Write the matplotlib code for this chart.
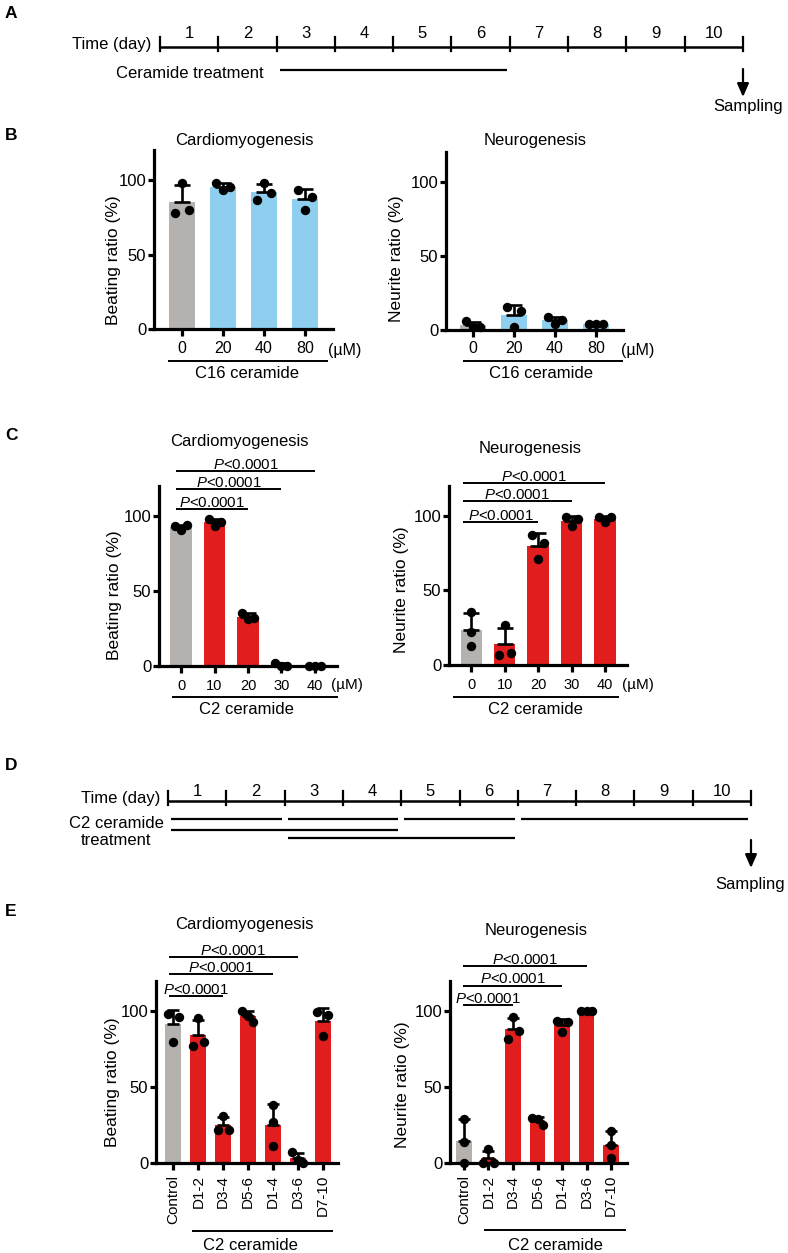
import numpy as np
import matplotlib
matplotlib.use('Agg')
import matplotlib.pyplot as plt

plt.rcParams['font.family'] = ['Liberation Sans', 'DejaVu Sans']
plt.rcParams['mathtext.fontset'] = 'custom'
plt.rcParams['mathtext.it'] = 'Liberation Sans:italic'
plt.rcParams['mathtext.rm'] = 'Liberation Sans'

W, H = 788, 1253

# ---------------- data ----------------
days = [1, 2, 3, 4, 5, 6, 7, 8, 9, 10]
a_treatment = [(3, 6)]
d_treatments = [(1, 2), (3, 4), (5, 6), (7, 10), (1, 4), (3, 6)]
d_rows = [0, 0, 0, 0, 1, 2]

c16_doses = ['0', '20', '40', '80']
c16_cardio = [[98, 78, 80], [98, 93, 95.5], [98, 86.6, 91], [93, 80, 88.4]]
c16_neuro = [[6, 1.8, 2.2], [15.3, 2.2, 13], [9, 4, 6.7], [4, 4, 4]]

c2_doses = ['0', '10', '20', '30', '40']
c2_cardio = [[93.5, 90.7, 93.7], [98, 93.5, 95.8], [35.5, 31, 32], [2, 0, 0], [0, 0, 0]]
c2_neuro = [[35.4, 13, 21.8], [26.5, 7, 8], [87, 82, 71], [99, 93, 98], [99, 96, 99]]

windows = ['Control', 'D1-2', 'D3-4', 'D5-6', 'D1-4', 'D3-6', 'D7-10']
win_cardio = [[98, 96, 80], [95.6, 77, 80], [31, 22, 22], [100, 97, 93],
              [38, 27, 11], [7, 2, 0], [99.6, 97.4, 84]]
win_neuro = [[29, 14, 0], [9, 0, 0], [96, 82, 87], [30, 29, 25],
             [93.6, 92.7, 86.5], [100, 100, 100], [21, 12, 3]]

p_label = r'$P$<0.0001'

# ---------------- style ----------------
GRAY = '#b5b1ae'
BLUE = '#8ecff0'
RED = '#e21d1d'
FS = 12

fig = plt.figure(figsize=(W / 100, H / 100), dpi=100)
ov = fig.add_axes([0, 0, 1, 1])
ov.set_xlim(0, W)
ov.set_ylim(H, 0)
ov.axis('off')


def otext(x, y, s, **kw):
    kw.setdefault('ha', 'center')
    kw.setdefault('va', 'center')
    kw.setdefault('fontsize', FS)
    ov.text(x, y, s, **kw)


def oline(x0, x1, y, lw=1.4):
    ov.plot([x0, x1], [y, y], color='k', lw=lw, solid_capstyle='butt')


for lab, (x, y) in zip('ABCDE', [(5, 13), (5, 135), (5, 435), (5, 765), (5, 912)]):
    otext(x, y, lab, ha='left', fontweight='bold', fontsize=12.5)


# ---------------- timelines ----------------
def timeline(l, r, line_y, num_y, segs, seg_ys, arrow_y, time_gap):
    ax = fig.add_axes([l / W, 0, (r - l) / W, 1])
    n = len(days)
    ax.set_xlim(0, n)
    ax.set_ylim(H, 0)
    ax.axis('off')
    ppx = (r - l) / n
    ax.plot([0, n], [line_y] * 2, color='k', lw=1.8, solid_capstyle='butt', clip_on=False)
    for d in range(n + 1):
        ax.plot([d, d], [line_y - 10, line_y + 4], color='k', lw=1.6, clip_on=False)
    for i, dl in enumerate(days):
        ax.text(i + 0.5, num_y, str(dl), ha='center', va='center', fontsize=FS)
    ax.text(-time_gap / ppx, line_y - 3, 'Time (day)', ha='right', va='center', fontsize=FS)
    for (s, e), y in zip(segs, seg_ys):
        ax.plot([s - 1 + 3 / ppx, e - 3 / ppx], [y, y], color='k', lw=1.6,
                solid_capstyle='butt', clip_on=False)
    ax.annotate('', xy=(n, arrow_y[1]), xytext=(n, arrow_y[0]),
                arrowprops=dict(arrowstyle='-|>,head_length=0.8,head_width=0.35',
                                color='k', lw=1.6, shrinkA=0, shrinkB=0),
                annotation_clip=False)
    return ax


timeline(160, 743, 47, 33, a_treatment, [70], (69, 97), 9)
otext(783, 106, 'Sampling', ha='right')
otext(264, 73, 'Ceramide treatment', ha='right')

row_y = [819, 830, 838]
timeline(168, 751, 801, 791, d_treatments, [row_y[r] for r in d_rows], (840, 868), 8)
otext(785, 884, 'Sampling', ha='right')
otext(116, 832, 'C2 ceramide\ntreatment', linespacing=1.12)


# ---------------- bar panels ----------------
def spread(vals, pxy, thr=9.0):
    vals = np.asarray(vals, dtype=float)
    order = np.argsort(vals, kind='stable')
    clusters = []
    for idx in order:
        if clusters and (vals[idx] - vals[clusters[-1][-1]]) * pxy < thr:
            clusters[-1].append(idx)
        else:
            clusters.append([idx])
    offs = np.zeros(len(vals))
    for c in clusters:
        c = sorted(c)
        pattern = {1: [0], 2: [-1, 1], 3: [-1, 0, 1]}.get(len(c), [0] * len(c))
        for j, idx in enumerate(c):
            offs[idx] = pattern[j]
    return offs


def bar_panel(rect, xlim, labels, groups, colors, spread_px, capsize,
              xtick_fs, xpad, title, title_xy, ylabel, ylabel_xy, rotation=0):
    l, r, t, b = rect
    ax = fig.add_axes([l / W, 1 - b / H, (r - l) / W, (b - t) / H])
    n = len(groups)
    x = np.arange(n)
    means = np.array([np.mean(g) for g in groups])
    sds = np.array([np.std(g, ddof=1) for g in groups])
    ax.set_xlim(*xlim)
    ax.set_ylim(0, 120)
    ax.bar(x, means, width=0.64, color=colors, linewidth=0, zorder=1)
    ax.errorbar(x, means, yerr=[np.zeros(n), sds], fmt='none', ecolor='k',
                elinewidth=1.9, capsize=capsize, capthick=1.9, zorder=2)
    pxx = (r - l) / (xlim[1] - xlim[0])
    pxy = (b - t) / 120.0
    for i, g in enumerate(groups):
        offs = spread(g, pxy)
        ax.scatter(i + offs * spread_px / pxx, g, s=46, color='k', linewidths=0,
                   zorder=3, clip_on=False)
    for s in ['top', 'right']:
        ax.spines[s].set_visible(False)
    for s in ['left', 'bottom']:
        ax.spines[s].set_linewidth(2.3)
    ax.set_yticks([0, 50, 100])
    ax.tick_params(axis='y', length=4.5, width=2.3, pad=1, labelsize=12)
    ax.set_xticks(x, labels, rotation=rotation)
    ax.tick_params(axis='x', length=5, width=2.3, pad=xpad, labelsize=xtick_fs)
    ax.set_title(title, fontsize=FS, x=(title_xy[0] - l) / (r - l),
                 y=(b - title_xy[1]) / (b - t), va='center', pad=0)
    ax.set_ylabel(ylabel, fontsize=12.5, va='center')
    ax.yaxis.set_label_coords((ylabel_xy[0] - l) / (r - l), (b - ylabel_xy[1]) / (b - t))
    return ax


def brackets(ax, targets, ys, x0, fs=10.8):
    for k, y in zip(targets, ys):
        ax.plot([x0, k], [y, y], color='k', lw=1.4, clip_on=False, solid_capstyle='butt')
        ax.annotate(p_label, xy=((x0 + k) / 2, y), xytext=(0, 1.5),
                    textcoords='offset points', ha='center', va='baseline',
                    fontsize=fs, annotation_clip=False)


# B
bar_panel((154, 333, 150.1, 329.3), (-0.68, 3.68), c16_doses, c16_cardio,
          [GRAY] + [BLUE] * 3, 7, 6, 11.5, 3.2, 'Cardiomyogenesis', (244, 140),
          'Beating ratio (%)', (113, 260))
bar_panel((446, 623, 152, 330), (-0.66, 3.66), c16_doses, c16_neuro,
          [GRAY] + [BLUE] * 3, 7, 6, 11.5, 3.2, 'Neurogenesis', (535, 140),
          'Neurite ratio (%)', (397, 259))
otext(345, 350, '(µM)', fontsize=11.5)
oline(168, 328, 361)
otext(247, 374, 'C16 ceramide')
otext(638, 350, '(µM)', fontsize=11.5)
oline(463, 623, 361)
otext(541, 374, 'C16 ceramide')

# C
axc1 = bar_panel((159, 337, 486, 666), (-0.66, 4.66), c2_doses, c2_cardio,
                 [GRAY] + [RED] * 4, 6, 6, 10.5, 4.2, 'Cardiomyogenesis', (239, 442),
                 'Beating ratio (%)', (115, 595))
brackets(axc1, [4, 3, 2], [130, 118, 104.7], -0.15)
axc2 = bar_panel((449, 627, 486, 665), (-0.67, 4.66), c2_doses, c2_neuro,
                 [GRAY] + [RED] * 4, 6, 6, 10.5, 4.2, 'Neurogenesis', (530, 448),
                 'Neurite ratio (%)', (402, 590))
brackets(axc2, [4, 3, 2], [122, 110, 96], -0.25)
otext(347, 685, '(µM)', fontsize=11)
oline(172, 338, 697)
otext(246, 710, 'C2 ceramide')
otext(638, 685, '(µM)', fontsize=11)
oline(453, 619, 697)
otext(535, 710, 'C2 ceramide')

# E
axe1 = bar_panel((156, 338, 981, 1163), (-0.70, 6.62), windows, win_cardio,
                 [GRAY] + [RED] * 6, 5.5, 4, 11, 3.6, 'Cardiomyogenesis', (244, 924),
                 'Beating ratio (%)', (112, 1082), rotation=90)
brackets(axe1, [5, 4, 2], [135.5, 124.3, 110], -0.18)
axe2 = bar_panel((450, 627, 981, 1163), (-0.57, 6.65), windows, win_neuro,
                 [GRAY] + [RED] * 6, 5.5, 4, 11, 3.6, 'Neurogenesis', (536, 930),
                 'Neurite ratio (%)', (403, 1085), rotation=90)
brackets(axe2, [5, 4, 2], [130, 117, 104], -0.04)
oline(192, 333, 1231)
otext(250, 1245, 'C2 ceramide')
oline(484, 626, 1230)
otext(555, 1245, 'C2 ceramide')

fig.savefig('out.png', dpi=100)
